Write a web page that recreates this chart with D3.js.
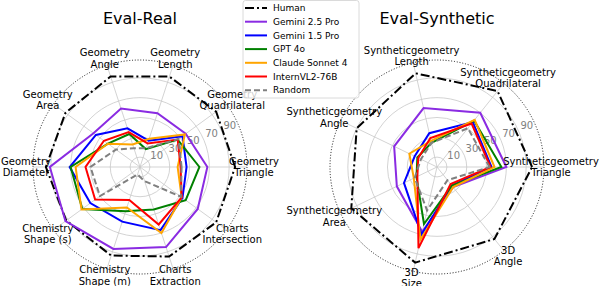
<!DOCTYPE html>
<html>
<head>
<meta charset="utf-8">
<script src="https://cdn.jsdelivr.net/npm/d3@7"></script>
<style>
  body { margin: 0; background: #fff; }
  text { font-family: "DejaVu Sans", sans-serif; }
</style>
</head>
<body>
<div id="chart"></div>
<script>
// data
const models = ['Human', 'Gemini 2.5 Pro', 'Gemini 1.5 Pro', 'GPT 4o', 'Claude Sonnet 4', 'InternVL2-76B', 'Random'];
const ringTicks = [10, 30, 50, 70, 90];

// axes go counter-clockwise starting from the right (east)
const realAxes = ['Geometry\nTriangle', 'Geometry\nQuadrilateral', 'Geometry\nLength', 'Geometry\nAngle',
    'Geometry\nArea', 'Geometry\nDiameter', 'Chemistry\nShape (s)', 'Chemistry\nShape (m)',
    'Charts\nExtraction', 'Charts\nIntersection'];
const realHuman    = [96, 95, 96, 96, 93, 95, 92, 94, 95, 95];
const realGemini25 = [68, 57, 57, 62, 58, 91, 93, 87, 85, 72];
const realGemini15 = [47, 53, 28, 41, 55, 71, 62, 58, 67, 53];
const realGpt4o    = [60, 47, 19, 35, 40, 70, 72, 47, 45, 57];
const realClaude   = [38, 56, 30, 24, 40, 65, 73, 43, 70, 52];
const realIntern   = [41, 47, 25, 37, 45, 55, 56, 35, 61, 52];
const realRandom   = [42, 48, 20, 20, 30, 50, 50, 8, 15, 51];

const synAxes = ['Syntheticgeometry\nTriangle', 'Syntheticgeometry\nQuadrilateral', 'Syntheticgeometry\nLength',
    'Syntheticgeometry\nAngle', 'Syntheticgeometry\nArea', '3D\nSize', '3D\nAngle'];
const synHuman    = [96, 98, 97, 90, 96, 99, 93];
const synGemini25 = [70, 70, 61, 48, 45, 67, 26];
const synGemini15 = [55, 58, 35, 25, 37, 70, 24];
const synGpt4o    = [65, 60, 25, 22, 23, 59, 24];
const synClaude   = [58, 61, 27, 31, 26, 75, 26];
const synIntern   = [54, 56, 30, 21, 22, 84, 22];
const synRandom   = [53, 50, 25, 18, 25, 45, 17];

// styles
const styles = {
    'Human':           { color: '#000000', width: 2, dash: '9,3,2,3' },
    'Gemini 2.5 Pro':  { color: '#8a2be2', width: 2, dash: null },
    'Gemini 1.5 Pro':  { color: '#0000ff', width: 2, dash: null },
    'GPT 4o':          { color: '#008000', width: 2, dash: null },
    'Claude Sonnet 4': { color: '#ffa500', width: 2, dash: null },
    'InternVL2-76B':   { color: '#ff0000', width: 2, dash: null },
    'Random':          { color: '#808080', width: 2, dash: '6,3' }
};

const width = 604;
const height = 286;

const svg = d3.select('#chart')
    .append('svg')
    .attr('width', width)
    .attr('height', height)
    .attr('viewBox', `0 0 ${width} ${height}`);

const rScale = d3.scaleLinear().domain([0, 108]).range([0, 107]);

function drawRadar(cx, cy, title, axes, seriesValues) {
    const g = svg.append('g').attr('transform', `translate(${cx}, ${cy})`);
    const n = axes.length;
    // d3 radial angle: 0 at north, clockwise -> convert from ccw-from-east
    const angle = i => Math.PI / 2 - i * 2 * Math.PI / n;

    // grid rings
    g.selectAll('.ring')
        .data(ringTicks)
        .enter()
        .append('circle')
        .attr('r', d => rScale(d))
        .attr('fill', 'none')
        .attr('stroke', '#c8c8c8')
        .attr('stroke-width', 0.8);

    // spokes
    g.selectAll('.spoke')
        .data(axes)
        .enter()
        .append('line')
        .attr('x1', 0).attr('y1', 0)
        .attr('x2', (d, i) => rScale(108) * Math.sin(angle(i)))
        .attr('y2', (d, i) => -rScale(108) * Math.cos(angle(i)))
        .attr('stroke', '#c8c8c8')
        .attr('stroke-width', 0.8);

    // outer frame
    g.append('circle')
        .attr('r', rScale(108))
        .attr('fill', 'none')
        .attr('stroke', '#000')
        .attr('stroke-width', 0.9)
        .attr('stroke-dasharray', '1,1.8');

    // ring tick labels along 22.5 degrees
    const tickA = Math.PI / 2 - Math.PI / 8;
    g.selectAll('.rtick')
        .data(ringTicks)
        .enter()
        .append('text')
        .attr('x', d => rScale(d) * Math.sin(tickA) + 7.5)
        .attr('y', d => -rScale(d) * Math.cos(tickA) - 7.3)
        .attr('dy', '0.35em')
        .attr('text-anchor', 'middle')
        .attr('font-size', '10px')
        .attr('fill', '#808080')
        .text(d => d);

    // series lines
    const line = d3.lineRadial()
        .angle((d, i) => angle(i))
        .radius(d => rScale(d))
        .curve(d3.curveLinearClosed);

    models.forEach((m, k) => {
        const st = styles[m];
        g.append('path')
            .datum(seriesValues[k])
            .attr('d', line)
            .attr('fill', 'none')
            .attr('stroke', st.color)
            .attr('stroke-width', st.width)
            .attr('stroke-linejoin', 'miter')
            .attr('stroke-dasharray', st.dash);
    });

    // axis labels
    const labelR = 114;
    const labels = g.selectAll('.axis-label')
        .data(axes)
        .enter()
        .append('text')
        .attr('text-anchor', 'middle')
        .attr('font-size', '10px')
        .attr('fill', '#000')
        .attr('transform', (d, i) => `translate(${labelR * Math.sin(angle(i))}, ${-labelR * Math.cos(angle(i))})`);

    labels.each(function(d) {
        const lines = d.split('\n');
        const t = d3.select(this);
        lines.forEach((s, j) => {
            t.append('tspan')
                .attr('x', 0)
                .attr('y', (j - (lines.length - 1) / 2) * 11.5)
                .attr('dy', '0.35em')
                .text(s);
        });
    });

    // title
    svg.append('text')
        .attr('x', cx)
        .attr('y', 24)
        .attr('text-anchor', 'middle')
        .attr('font-size', '16px')
        .attr('fill', '#000')
        .text(title);
}

drawRadar(140, 167, 'Eval-Real', realAxes,
    [realHuman, realGemini25, realGemini15, realGpt4o, realClaude, realIntern, realRandom]);
drawRadar(437, 167, 'Eval-Synthetic', synAxes,
    [synHuman, synGemini25, synGemini15, synGpt4o, synClaude, synIntern, synRandom]);

// legend
const legend = svg.append('g')
    .attr('class', 'legend')
    .attr('transform', 'translate(243, 0.5)');

legend.append('rect')
    .attr('width', 116)
    .attr('height', 97.5)
    .attr('rx', 2.5)
    .attr('fill', '#fff')
    .attr('fill-opacity', 0.8)
    .attr('stroke', '#d0d0d0')
    .attr('stroke-width', 0.8);

const legendItem = legend.selectAll('.legend-item')
    .data(models)
    .enter()
    .append('g')
    .attr('class', 'legend-item')
    .attr('transform', (d, i) => `translate(0, ${7.5 + i * 13.7})`);

legendItem.append('line')
    .attr('x1', 2).attr('x2', 24)
    .attr('y1', 0).attr('y2', 0)
    .attr('stroke', d => styles[d].color)
    .attr('stroke-width', d => styles[d].width)
    .attr('stroke-dasharray', d => styles[d].dash);

legendItem.append('text')
    .attr('x', 30)
    .attr('y', 0)
    .attr('dy', '0.35em')
    .attr('font-size', '9px')
    .attr('fill', '#000')
    .text(d => d);
</script>
</body>
</html>
